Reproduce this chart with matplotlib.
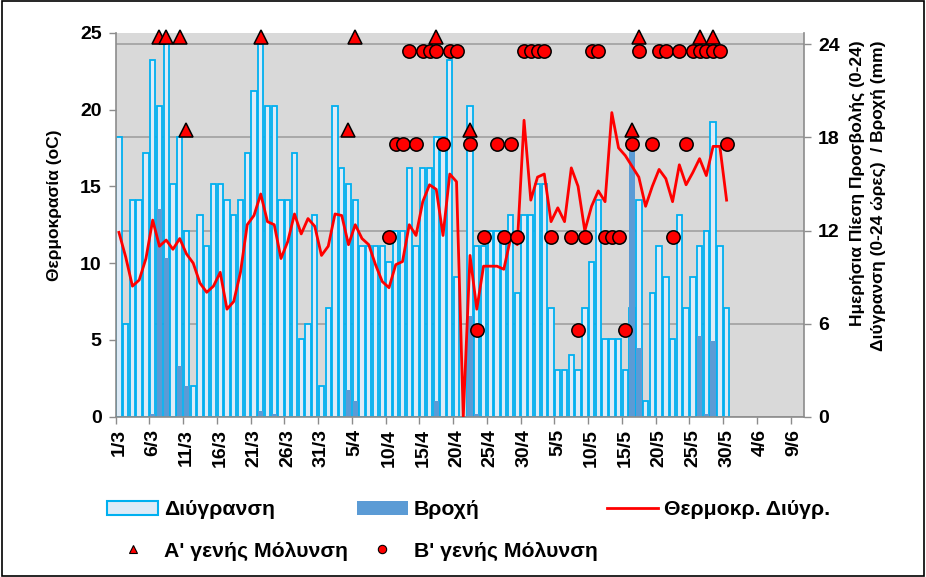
import matplotlib
matplotlib.use("Agg")
import matplotlib.pyplot as plt
import matplotlib.transforms as mtransforms
from matplotlib.lines import Line2D
from matplotlib.patches import Patch, Rectangle
import numpy as np

plt.rcParams["font.family"] = ["Liberation Sans", "DejaVu Sans"]
plt.rcParams["font.weight"] = "bold"

# one value per day, 1/3 .. 30/5
wetness = [18, 6, 14, 14, 17, 23, 20, 24, 15, 18, 12, 2, 13, 11, 15, 15,
           14, 13, 14, 17, 21, 24, 20, 20, 14, 14, 17, 5, 6, 13, 2,
           7, 20, 16, 15, 14, 11, 11, 11, 11, 10, 12, 12, 16, 11, 16, 16,
           18, 18, 23, 9, 0, 20, 11, 11, 12, 12, 12, 13, 8, 13,
           13, 15, 15, 7, 3, 3, 4, 3, 7, 10, 14, 5, 5, 5, 3, 7,
           14, 1, 8, 11, 9, 5, 13, 7, 9, 11, 12, 19, 11, 7]
rain = [0, 0, 0, 0, 0, 0.2, 13.4, 10.2, 0, 3.3, 2.0, 0, 0, 0, 0, 0,
        0, 0, 0, 0, 0, 0.4, 0, 0.15, 0, 0, 0, 0, 0, 0, 0,
        0, 0, 0, 1.7, 1.0, 0, 0, 0, 0, 0, 0, 0, 0, 0, 0, 0,
        1.0, 0, 0, 0, 0, 6.5, 0.2, 0, 0, 0, 0, 0, 0, 0,
        0, 0, 0, 0, 0, 0, 0, 0, 0, 0, 0, 0, 0, 0, 0, 17.2,
        4.4, 0, 0, 0, 0, 0, 0, 0, 0, 5.2, 0.2, 4.9, 0, 0]
temperature = [12.0, 10.4, 8.5, 8.9, 10.3, 12.8, 11.1, 11.5, 10.9, 11.6, 10.6,
               10.0, 8.7, 8.1, 8.5, 9.4, 7.0, 7.5, 9.4, 12.5, 13.1, 14.5,
               12.7, 12.5, 10.3, 11.4, 13.2, 11.9, 12.9, 12.4, 10.5,
               11.1, 13.2, 13.1, 11.2, 12.5, 11.6, 11.2, 9.9, 8.8, 8.4,
               9.9, 10.1, 12.5, 11.8, 14.0, 15.1, 14.8, 11.8, 15.8, 15.3,
               0.0, 10.5, 7.0, 9.8, 9.8, 9.8, 9.6, 11.6, 11.2, 19.3,
               14.1, 15.6, 15.8, 12.7, 13.6, 12.7, 16.2, 15.0, 12.1, 13.7,
               14.7, 14.0, 19.8, 17.5, 17.0, 16.3, 15.6, 13.7, 15.0, 16.1,
               15.5, 14.0, 16.4, 15.1, 15.9, 16.8, 15.7, 17.6, 17.6, 14.1]

# infection events: day index (0 = 1/3) and daily pressure level (0-24)
primary_days = [6, 7, 9, 10, 21, 34, 35, 47, 52, 76, 77, 86, 88]
primary_level = [24, 24, 24, 18, 24, 18, 24, 24, 18, 18, 24, 24, 24]
secondary_days = [40, 41, 42, 43, 44, 45, 46, 47, 48, 49, 50, 52, 53, 54, 56,
                  57, 58, 59, 60, 61, 62, 63, 64, 67, 68, 69, 70, 71, 72, 73,
                  74, 75, 76, 77, 79, 80, 81, 82, 83, 84, 85, 86, 87, 88, 89, 90]
secondary_level = [12, 18, 18, 24, 18, 24, 24, 24, 18, 24, 24, 18, 6, 12, 18,
                   12, 18, 12, 24, 24, 24, 24, 12, 12, 6, 12, 24, 24, 12, 12,
                   12, 6, 18, 24, 18, 24, 24, 12, 24, 18, 24, 24, 24, 24, 24, 18]

tick_labels = ["1/3", "6/3", "11/3", "16/3", "21/3", "26/3", "31/3", "5/4",
               "10/4", "15/4", "20/4", "25/4", "30/4", "5/5", "10/5", "15/5",
               "20/5", "25/5", "30/5", "4/6", "9/6"]

n_slots = 102
grid_color = "#A0A0A0"
axis_color = "#8C8C8C"
tick_fs = 14

fig = plt.figure(figsize=(9.26, 5.77), dpi=100)
fig.patches.append(Rectangle((0.002, 0.002), 0.996, 0.996, transform=fig.transFigure,
                             fill=False, ec="black", lw=1.2))

ax_w = fig.add_axes([0.1248, 0.2778, 0.7437, 0.6655])
ax_t = ax_w.twinx()
ax_m = ax_w.twinx()

# bars: wetness hours and rain (right axis)
ax_w.set_facecolor("#D9D9D9")
ax_w.set_xlim(0, n_slots)
ax_w.set_ylim(0, 24.75)
x = np.arange(len(wetness)) + 0.5
ax_w.bar(x, wetness, width=0.8, color="#DEEBF7", edgecolor="#00B0F0", linewidth=1.3)
ax_w.bar(x, rain, width=0.8, color="#5B9BD5", linewidth=0)

ax_w.set_axisbelow(True)
ax_w.yaxis.tick_right()
ax_w.set_yticks([0, 6, 12, 18, 24])
ax_w.grid(axis="y", color=grid_color, lw=1.2)
ax_w.grid(axis="x", visible=False)

tick_pos = np.arange(0, 101, 5)
ax_w.set_xticks(tick_pos + 0.5, tick_labels, rotation=90, fontsize=tick_fs, fontweight="bold")
ax_w.set_xticks(tick_pos, minor=True)
ax_w.tick_params(axis="x", which="major", length=0, pad=9)
ax_w.tick_params(axis="x", which="minor", length=5, color=axis_color, width=1)
ax_w.tick_params(axis="y", length=5, color=axis_color, width=1, labelsize=tick_fs, pad=5)

for side in ["left", "right", "bottom"]:
    ax_w.spines[side].set_color(axis_color)
    ax_w.spines[side].set_linewidth(1.2)
ax_w.spines["top"].set_visible(False)

# temperature line (left axis)
ax_t.yaxis.tick_left()
ax_t.set_ylim(0, 25)
ax_t.set_yticks(np.arange(0, 26, 5))
ax_t.tick_params(axis="y", length=5, color=axis_color, width=1, labelsize=tick_fs, pad=5)
for s in ax_t.spines.values():
    s.set_visible(False)
ax_t.patch.set_visible(False)
ax_t.plot(x, temperature, color="#FF0000", lw=2.0)

# infection markers (right axis scale)
ax_m.set_ylim(ax_w.get_ylim())
ax_m.axis("off")
up = mtransforms.offset_copy(ax_m.transData, fig=fig, x=0, y=5, units="points")
down = mtransforms.offset_copy(ax_m.transData, fig=fig, x=0, y=-4.8, units="points")
ax_m.plot(np.array(secondary_days) + 0.5, secondary_level, ls="none", marker="o", ms=9.6,
          mfc="#FF0000", mec="black", mew=1.1, transform=down, clip_on=False)
ax_m.plot(np.array(primary_days) + 0.5, primary_level, ls="none", marker="^", ms=10,
          mfc="#FF0000", mec="black", mew=1.1, transform=up, clip_on=False)

fig.text(0.059, 0.645, "Θερμοκρασία (oC)", rotation=90, ha="center", va="center",
         fontsize=12.5, fontweight="bold")
fig.text(0.9255, 0.93, "Ημερήσια Πίεση Προσβολής (0-24)", rotation=90, ha="center",
         va="top", fontsize=12.5, fontweight="bold")
fig.text(0.948, 0.93, "Διύγρανση (0-24 ώρες)  / Βροχή (mm)", rotation=90, ha="center",
         va="top", fontsize=12.5, fontweight="bold")

handles = [
    Patch(fc="#DEEBF7", ec="#00B0F0", lw=1.5, label="Διύγρανση"),
    Line2D([], [], ls="none", marker="^", ms=6, mfc="#FF0000", mec="black", mew=0.8,
           label="Α' γενής Μόλυνση"),
    Patch(fc="#5B9BD5", ec="none", label="Βροχή"),
    Line2D([], [], ls="none", marker="o", ms=6, mfc="#FF0000", mec="black", mew=0.8,
           label="Β' γενής Μόλυνση"),
    Line2D([], [], color="#FF0000", lw=2, label="Θερμοκρ. Διύγρ."),
]
fig.legend(handles=handles, ncol=3, loc="upper left", bbox_to_anchor=(0.1156, 0.133),
           frameon=False, fontsize=15.3, handlelength=2.4, handleheight=0.6,
           handletextpad=0.28, columnspacing=0.42, labelspacing=1.05,
           borderpad=0, borderaxespad=0)

fig.savefig("out.png", dpi=100)
